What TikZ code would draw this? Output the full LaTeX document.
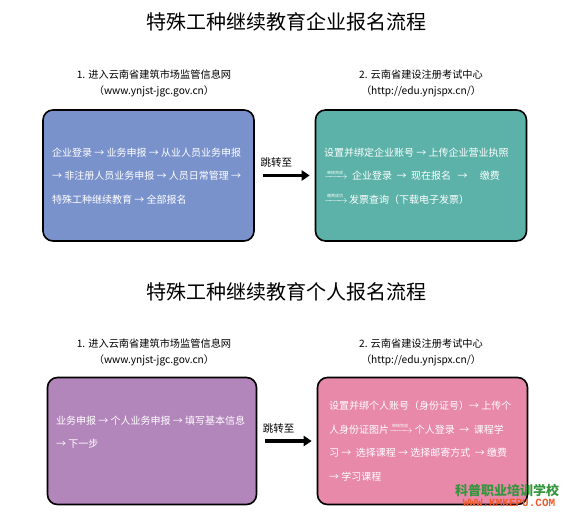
\documentclass[tikz,border=0pt]{standalone}
\usepackage{amsmath}
\usepackage{xcolor}
\usepackage{fontspec}
\newfontfamily\cjk{Noto Sans CJK SC}
\newfontfamily\wmono{Liberation Mono}
\usepackage{tikz}
\usetikzlibrary{positioning,arrows.meta}
\definecolor{cBlue}{RGB}{122,146,204}
\definecolor{cTeal}{RGB}{92,178,168}
\definecolor{cPurple}{RGB}{179,134,187}
\definecolor{cPink}{RGB}{232,137,170}
\definecolor{wmGreen}{RGB}{52,150,60}
\definecolor{wmRed}{RGB}{240,90,40}
\newcommand{\doneto}[1]{\smash{$\xrightarrow{\makebox[17pt]{\cjk\fontsize{4}{4}\selectfont #1}}$}}
\tikzset{
  card/.style={draw=black, line width=1.6pt, rounded corners=10pt, minimum width=211pt, minimum height=131pt, inner sep=0pt},
  ctxt/.style={text=white, align=left, inner sep=0pt, font=\cjk\fontsize{10}{23.5}\selectfont},
  hd/.style={font=\cjk\fontsize{20}{24}\selectfont, inner sep=0pt},
  sub/.style={font=\cjk\fontsize{10.2}{15.5}\selectfont, align=center, inner sep=0pt},
  jmp/.style={draw=black, line width=3.5pt, -{Triangle[length=8pt,width=10pt]}, shorten <=8pt, shorten >=5pt},
  jlbl/.style={font=\cjk\fontsize{10.5}{12}\selectfont, inner sep=1pt},
  wm/.style={inner sep=0pt}
}
\begin{document}
\begin{tikzpicture}[x=1pt, y=-1pt]
  \useasboundingbox (0,0) rectangle (569,518);
  \node[hd] (h1) at (286,22) {特殊工种继续教育企业报名流程};
  \node[sub] (s1) at (154,83.5) {1. 进入云南省建筑市场监管信息网\\（www.ynjst-jgc.gov.cn）};
  \node[sub] (s2) at (421,83.5) {2. 云南省建设注册考试中心\\（http://edu.ynjspx.cn/）};
  \node[card, fill=cBlue] (c1) at (148.5,175.5) {};
  \node[card, fill=cTeal] (c2) at (421,175.5) {};
  \node[ctxt, anchor=west] (t1) at (52,176) {企业登录 → 业务申报 → 从业人员业务申报\\→ 非注册人员业务申报 → 人员日常管理 →\\特殊工种继续教育 → 全部报名};
  \node[ctxt, anchor=west] (t2) at (324,176) {设置并绑定企业账号 → 上传企业营业执照\\\doneto{审核完成}\ \ 企业登录 \ → \ 现在报名 \ \ → \quad 缴费\\\doneto{缴费成功}\,发票查询（下载电子发票）};
  \draw[jmp] (c1.east) -- (c2.west) node[jlbl, above=5pt, pos=0.36] (j1) {跳转至};
  \node[hd] (h2) at (286,292) {特殊工种继续教育个人报名流程};
  \node[sub] (s3) at (154,352.5) {1. 进入云南省建筑市场监管信息网\\（www.ynjst-jgc.gov.cn）};
  \node[sub] (s4) at (421,352.5) {2. 云南省建设注册考试中心\\（http://edu.ynjspx.cn/）};
  \node[card, fill=cPurple, minimum width=209pt, minimum height=127pt] (c3) at (152,441) {};
  \node[card, fill=cPink, minimum width=210pt, minimum height=127pt] (c4) at (422.5,441) {};
  \node[ctxt, anchor=west] (t3) at (56,432) {业务申报 → 个人业务申报 → 填写基本信息\\ → 下一步};
  \node[ctxt, anchor=west] (t4) at (329,441) {设置并绑个人账号（身份证号）→ 上传个\\人身份证图片\doneto{审核完成}\ 个人登录 \ → \ 课程学\\习 → \ 选择课程 → 选择邮寄方式 \ → 缴费\\→ 学习课程};
  \draw[jmp] (c3.east) -- (c4.west) node[jlbl, above=5pt, pos=0.36] (j2) {跳转至};
  \node[wm, text=wmGreen, font=\cjk\bfseries\fontsize{13}{14}\selectfont] (w1) at (507,490) {科普职业培训学校};
  \node[wm, text=wmRed, font=\wmono\bfseries\fontsize{11}{12}\selectfont] (w2) at (509,503) {WWW.KMKEPU.COM};
\end{tikzpicture}
\end{document}
